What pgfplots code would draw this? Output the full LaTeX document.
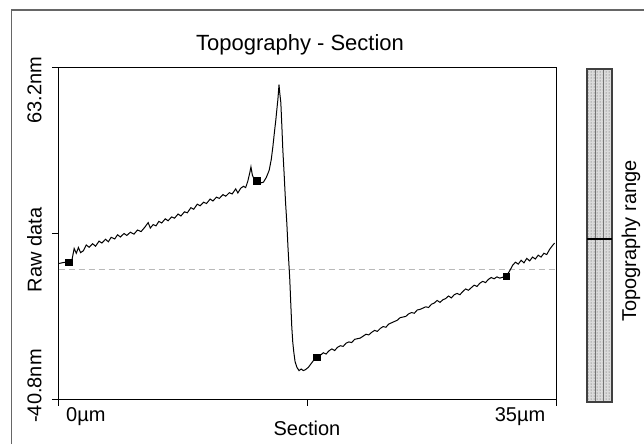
\documentclass[border=0pt]{standalone}
\usepackage{fontspec}
\setmainfont{Liberation Sans}
\usepackage{pgfplots}
\pgfplotsset{compat=1.18}
\usetikzlibrary{patterns}

\pgfplotstableread{
x y
0.05 1.8
0.35 2.1
0.70 2.2
0.95 3.0
1.10 6.5
1.25 5.0
1.40 6.8
1.55 5.2
1.75 5.8
1.95 7.6
2.15 6.9
2.40 8.0
2.60 7.2
2.85 8.8
3.05 8.2
3.30 9.4
3.50 8.6
3.70 10.0
3.95 9.5
4.15 10.8
4.35 10.1
4.60 11.2
4.80 10.6
5.05 11.6
5.30 11.0
5.55 12.3
5.80 11.8
6.05 13.1
6.30 14.6
6.45 12.9
6.65 14.0
6.85 13.6
7.05 15.0
7.25 14.5
7.50 15.8
7.70 15.2
7.95 16.4
8.15 16.0
8.40 17.3
8.60 16.7
8.85 18.0
9.05 17.7
9.30 19.3
9.50 18.8
9.75 20.4
9.95 19.9
10.20 21.0
10.40 20.6
10.65 22.0
10.85 21.4
11.10 22.6
11.30 22.2
11.55 23.4
11.75 22.9
12.00 24.0
12.20 23.6
12.45 25.2
12.60 23.9
12.80 25.4
13.00 26.0
13.15 25.6
13.30 27.6
13.45 30.5
13.52 32.1
13.62 29.5
13.75 28.2
13.93 27.7
14.15 27.0
14.40 27.3
14.60 28.8
14.80 31.0
14.95 34.5
15.06 38.4
15.17 43.0
15.27 46.9
15.36 51.0
15.41 53.1
15.46 56.0
15.49 57.9
15.55 55.0
15.62 52.2
15.70 44.0
15.76 37.4
15.85 30.0
15.95 21.0
16.04 14.5
16.12 7.0
16.18 2.2
16.25 -3.4
16.32 -11.0
16.39 -18.2
16.46 -23.0
16.53 -26.0
16.62 -29.0
16.75 -30.8
16.90 -31.8
17.05 -31.3
17.20 -31.8
17.35 -31.5
17.55 -30.8
17.75 -29.6
17.95 -28.4
18.15 -27.6
18.40 -27.0
18.60 -26.2
18.80 -26.6
19.00 -25.6
19.20 -25.0
19.40 -25.5
19.60 -24.5
19.80 -24.0
20.00 -24.2
20.20 -23.2
20.40 -22.8
20.60 -23.0
20.80 -22.0
21.00 -21.8
21.20 -21.6
21.40 -21.0
21.60 -20.4
21.80 -20.6
22.00 -19.8
22.20 -19.2
22.40 -19.5
22.60 -18.6
22.80 -18.0
23.00 -18.2
23.20 -17.2
23.40 -16.8
23.60 -16.4
23.80 -16.0
24.00 -15.2
24.20 -15.0
24.40 -14.8
24.60 -14.0
24.80 -13.6
25.00 -13.8
25.20 -12.8
25.40 -12.6
25.60 -12.2
25.80 -11.8
26.00 -12.0
26.20 -11.0
26.40 -10.6
26.60 -9.8
26.80 -10.4
27.00 -9.6
27.20 -9.2
27.40 -8.4
27.60 -9.0
27.80 -8.0
28.00 -7.6
28.20 -8.0
28.40 -7.0
28.60 -6.2
28.80 -6.6
29.00 -5.8
29.20 -5.0
29.40 -5.4
29.60 -4.4
29.80 -3.8
30.00 -4.2
30.20 -3.2
30.40 -2.6
30.60 -3.0
30.80 -2.4
31.00 -2.8
31.45 -2.2
31.70 -0.5
31.90 1.2
32.10 2.2
32.30 1.6
32.50 2.8
32.70 2.0
32.90 3.4
33.10 2.6
33.30 3.8
33.50 3.2
33.70 4.4
33.90 3.8
34.10 5.0
34.30 4.6
34.50 6.2
34.70 7.4
34.85 8.2
}\profile

\begin{document}
\begin{tikzpicture}
\useasboundingbox (0pt,0pt) rectangle (644pt,444pt);
% outer frame
\draw[black!60, line width=1.2pt] (11.5pt,0pt) -- (11.5pt,434pt) -- (644pt,434pt);
\begin{axis}[
  at={(58.5pt,44.7pt)}, anchor=south west,
  scale only axis, width=498.2pt, height=331.6pt,
  xmin=0, xmax=35, ymin=-40.8, ymax=63.2,
  xtick={0,17.5,35}, ytick={-40.8,11.2,63.2},
  xticklabels={}, yticklabels={},
  tick align=outside, xtick pos=lower, ytick pos=left,
  major tick length=6.5pt,
  axis line style={line width=1.3pt},
  tick style={black, line width=1.3pt},
]
\addplot[gray!55, line width=1.3pt, dash pattern=on 6pt off 4pt] coordinates {(0,0) (35,0)};
\addplot[black, line width=1pt] table[x=x,y=y] {\profile};
\addplot[only marks, mark=square*, mark size=3.3pt, black] coordinates {(0.7,2.2) (13.93,27.7) (18.15,-27.6) (31.45,-2.2)};
\end{axis}
% labels
\node[font=\fontsize{22}{26}\selectfont] at (300pt,399pt) {Topography - Section};
\node[font=\fontsize{20}{24}\selectfont, rotate=90] at (34.5pt,354pt) {63.2nm};
\node[font=\fontsize{20}{24}\selectfont, rotate=90] at (34.5pt,194pt) {Raw data};
\node[font=\fontsize{20}{24}\selectfont, rotate=90] at (34.5pt,58pt) {-40.8nm};
\node[font=\fontsize{20}{24}\selectfont, anchor=west, inner sep=0pt] at (66pt,27pt) {0µm};
\node[font=\fontsize{20}{24}\selectfont] at (520pt,27pt) {35µm};
\node[font=\fontsize{20}{24}\selectfont] at (307pt,16pt) {Section};
% colour bar
\fill[gray!28] (587pt,42pt) rectangle (612pt,375pt);
\fill[pattern=dots, pattern color=black!70] (587pt,42pt) rectangle (612pt,375pt);
\draw[black!55, line width=0.8pt] (595.3pt,42pt) -- (595.3pt,375pt) (603.7pt,42pt) -- (603.7pt,375pt);
\draw[black!75, line width=1.3pt] (587pt,42pt) rectangle (612pt,375pt);
\draw[black, line width=1.5pt] (587pt,205pt) -- (612pt,205pt);
\node[font=\fontsize{20}{24}\selectfont, rotate=90] at (631pt,203pt) {Topography range};
\end{tikzpicture}
\end{document}
